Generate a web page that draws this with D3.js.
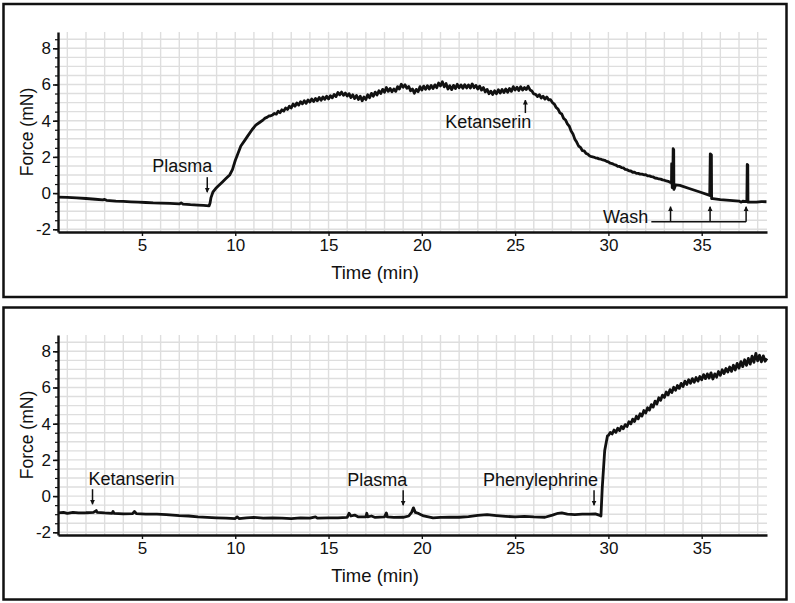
<!DOCTYPE html>
<html>
<head>
<meta charset="utf-8">
<script src="https://cdn.jsdelivr.net/npm/d3@7"></script>
<style>
  html, body { margin: 0; padding: 0; background: #fff; }
  svg { display: block; font-family: "Liberation Sans", Arial, sans-serif; }
</style>
</head>
<body>
<svg id="chart" width="795" height="603"></svg>
<script>
// ---------------- data ----------------
const xTicks = [5, 10, 15, 20, 25, 30, 35];
const yTicks = [-2, 0, 2, 4, 6, 8];
const xLabel = "Time (min)";
const yLabel = "Force (mN)";

// Top panel trace [time (min), force (mN)]
const topTrace = [
  [0.5,-0.22],[1.0,-0.24],[1.5,-0.27],[2.0,-0.3],[2.5,-0.34],[2.9,-0.38],[3.0,-0.35],[3.1,-0.4],[3.6,-0.44],
  [4.0,-0.46],[4.4,-0.48],[4.8,-0.5],[5.2,-0.52],[5.6,-0.54],[6.0,-0.55],[6.5,-0.57],[7.0,-0.6],[7.1,-0.54],
  [7.2,-0.61],[7.6,-0.64],[8.0,-0.66],[8.3,-0.68],[8.6,-0.71],
  [8.65,-0.55],[8.7,-0.25],[8.8,0.05],[8.95,0.25],[9.1,0.4],[9.3,0.6],[9.5,0.8],[9.7,1.0],[9.85,1.3],
  [10.0,1.8],[10.15,2.2],[10.3,2.6],[10.5,2.9],[10.7,3.2],[10.9,3.5],[11.1,3.75],[11.3,3.9],[11.5,4.05],
  [11.6,4.14],[11.7,4.18],[11.8,4.26],[11.9,4.27],[12.0,4.32],[12.1,4.4],[12.2,4.36],[12.3,4.52],[12.4,4.44],
  [12.5,4.6],[12.6,4.53],[12.7,4.7],[12.8,4.62],[12.9,4.8],[13.0,4.7],[13.1,4.92],[13.2,4.8],[13.3,4.98],
  [13.4,4.86],[13.5,5.05],[13.6,4.93],[13.7,5.1],[13.8,4.96],[13.9,5.15],[14.0,5.03],[14.1,5.2],[14.2,5.06],
  [14.3,5.23],[14.4,5.1],[14.5,5.28],[14.6,5.13],[14.7,5.31],[14.8,5.18],[14.9,5.35],[15.0,5.2],[15.1,5.38],
  [15.2,5.26],[15.3,5.45],[15.4,5.33],[15.5,5.56],[15.6,5.43],[15.7,5.58],[15.8,5.4],[15.9,5.53],[16.0,5.36],
  [16.1,5.49],[16.2,5.28],[16.3,5.43],[16.4,5.22],[16.5,5.39],[16.6,5.17],[16.7,5.35],[16.8,5.1],[16.9,5.31],
  [17.0,5.17],[17.1,5.43],[17.2,5.27],[17.3,5.51],[17.4,5.35],[17.5,5.58],[17.6,5.42],[17.7,5.65],[17.8,5.5],
  [17.9,5.73],[18.0,5.57],[18.1,5.83],[18.2,5.62],[18.3,5.78],[18.4,5.6],[18.5,5.75],[18.6,5.62],[18.7,5.88],
  [18.8,5.75],[18.9,6.01],[19.0,5.85],[19.1,5.98],[19.2,5.79],[19.3,5.89],[19.4,5.65],[19.5,5.75],[19.6,5.52],
  [19.7,5.73],[19.8,5.6],[19.9,5.88],[20.0,5.69],[20.1,5.91],[20.2,5.73],[20.3,5.93],[20.4,5.75],[20.5,5.95],
  [20.6,5.77],[20.7,5.98],[20.8,5.82],[20.9,6.08],[21.0,5.92],[21.1,6.15],[21.2,5.87],[21.3,6.05],[21.4,5.75],
  [21.5,5.93],[21.6,5.72],[21.7,5.95],[21.8,5.77],[21.9,6.01],[22.0,5.82],[22.1,5.98],[22.2,5.79],[22.3,5.99],
  [22.4,5.81],[22.5,5.98],[22.6,5.8],[22.7,6.03],[22.8,5.82],[22.9,5.95],[23.0,5.75],[23.1,5.91],[23.2,5.69],
  [23.3,5.83],[23.4,5.59],[23.5,5.73],[23.6,5.49],[23.7,5.63],[23.8,5.45],[23.9,5.65],[24.0,5.49],[24.1,5.71],
  [24.2,5.53],[24.3,5.73],[24.4,5.55],[24.5,5.75],[24.6,5.57],[24.7,5.78],[24.8,5.62],[24.9,5.88],[25.0,5.69],
  [25.1,5.85],[25.2,5.67],[25.3,5.88],[25.4,5.69],[25.5,5.83],[25.6,5.72],[25.7,5.9],[25.8,5.7],[25.9,5.64],
  [26.0,5.48],[26.1,5.45],[26.2,5.33],[26.3,5.43],[26.4,5.25],[26.5,5.35],[26.6,5.19],[26.7,5.31],[26.8,5.15],
  [26.9,5.16],[27.0,5.0],[27.1,4.92],[27.2,4.73],[27.3,4.64],[27.4,4.43],[27.5,4.37],[27.6,4.13],[27.7,4.04],
  [27.8,3.83],[27.9,3.7],[28.0,3.43],[28.1,3.27],[28.2,2.98],[28.3,2.82],[28.4,2.6],[28.5,2.53],[28.6,2.35],
  [28.7,2.33],[28.8,2.19],[28.9,2.15],[29.0,2.05],[29.1,2.01],[29.2,1.99],[29.3,1.95],[29.4,1.93],[29.5,1.89],
  [29.6,1.87],[29.7,1.83],[29.8,1.81],[29.9,1.75],[30.0,1.72],[30.1,1.65],[30.2,1.63],[30.3,1.58],[30.4,1.55],
  [30.5,1.48],[30.6,1.47],[30.7,1.41],[30.8,1.39],[30.9,1.31],[31.0,1.29],[31.1,1.23],[31.2,1.22],[31.3,1.15],
  [31.4,1.15],[31.5,1.09],[31.6,1.09],[31.7,1.05],[31.8,1.05],[31.9,1.01],[32.0,1.02],[32.1,0.95],[32.2,0.95],
  [32.3,0.91],[32.4,0.89],[32.5,0.83],[32.6,0.82],[32.7,0.78],[32.8,0.77],[32.9,0.73],[33.0,0.71],[33.1,0.67],
  [33.2,0.65],[33.3,0.6],[33.35,0.62],
  [33.38,0.55],[33.39,1.62],[33.41,1.55],[33.42,0.3],[33.45,0.4],[33.47,2.45],[33.5,2.4],[33.51,0.2],
  [33.55,0.3],[33.6,0.45],[33.83,0.43],[34.37,0.24],[34.9,0.06],[35.43,-0.13],[35.46,2.17],[35.52,2.12],
  [35.53,-0.3],[35.6,-0.31],[36.0,-0.36],[36.5,-0.4],[37.0,-0.44],[37.1,-0.5],[37.2,-0.45],[37.42,-0.47],
  [37.44,1.58],[37.47,1.55],[37.48,-0.5],[37.94,-0.5],[38.2,-0.47],[38.47,-0.48]
];

// Bottom panel trace [time (min), force (mN)]
const bottomTrace = [
  [0.5,-0.93],[0.8,-0.9],[1.0,-0.95],[1.3,-0.9],[1.6,-0.93],[2.0,-0.92],[2.4,-0.9],[2.55,-0.8],[2.6,-0.9],
  [3.0,-0.93],[3.4,-0.95],[3.45,-0.85],[3.5,-0.95],[4.0,-0.98],[4.5,-0.97],[4.6,-0.85],[4.7,-0.97],
  [5.2,-1.0],[5.8,-1.0],[6.3,-1.02],[7.0,-1.08],[7.5,-1.1],[8.0,-1.15],[8.5,-1.18],[9.0,-1.2],[9.5,-1.22],
  [10.0,-1.24],[10.1,-1.15],[10.2,-1.24],[10.6,-1.2],[11.0,-1.18],[11.5,-1.22],[12.0,-1.2],[12.5,-1.22],
  [13.0,-1.24],[13.5,-1.2],[14.0,-1.22],[14.3,-1.15],[14.4,-1.22],[15.0,-1.2],[15.5,-1.2],[16.0,-1.18],
  [16.1,-0.95],[16.2,-1.1],[16.4,-1.05],[16.6,-1.15],[17.0,-1.15],[17.05,-0.95],[17.1,-1.15],[17.3,-1.1],
  [17.5,-1.18],[18.0,-1.15],[18.1,-0.93],[18.15,-1.15],[18.5,-1.18],[19.0,-1.17],[19.3,-1.1],[19.45,-0.9],
  [19.55,-0.65],[19.65,-0.9],[19.8,-0.95],[19.9,-1.0],[20.1,-1.1],[20.6,-1.2],[21.0,-1.18],[21.5,-1.17],
  [22.0,-1.17],[22.5,-1.13],[23.0,-1.07],[23.5,-1.03],[24.0,-1.08],[24.5,-1.12],[25.0,-1.15],[25.5,-1.12],
  [26.0,-1.15],[26.6,-1.17],[27.0,-1.05],[27.3,-0.95],[27.5,-0.93],[27.8,-1.0],[28.2,-1.02],[28.6,-1.0],
  [29.0,-1.0],[29.3,-0.98],[29.5,-1.05],[29.6,-1.1],[29.67,0.46],[29.8,2.5],[29.95,3.33],
  [30.0,3.35],[30.1,3.52],[30.2,3.43],[30.3,3.65],[30.4,3.52],[30.5,3.75],[30.6,3.62],[30.7,3.85],[30.8,3.72],
  [30.9,3.95],[31.0,3.85],[31.1,4.11],[31.2,3.99],[31.3,4.25],[31.4,4.12],[31.5,4.41],[31.6,4.27],[31.7,4.55],
  [31.8,4.42],[31.9,4.73],[32.0,4.59],[32.1,4.88],[32.2,4.75],[32.3,5.05],[32.4,4.92],[32.5,5.25],[32.6,5.09],
  [32.7,5.43],[32.8,5.29],[32.9,5.58],[33.0,5.45],[33.1,5.75],[33.2,5.59],[33.3,5.88],[33.4,5.72],[33.5,6.01],
  [33.6,5.85],[33.7,6.11],[33.8,5.95],[33.9,6.23],[34.0,6.05],[34.1,6.35],[34.2,6.17],[34.3,6.43],[34.4,6.23],
  [34.5,6.49],[34.6,6.29],[34.7,6.55],[34.8,6.35],[34.9,6.61],[35.0,6.42],[35.1,6.71],[35.2,6.49],[35.3,6.75],
  [35.4,6.52],[35.5,6.81],[35.6,6.47],[35.7,6.75],[35.8,6.57],[35.9,6.88],[36.0,6.67],[36.1,6.98],[36.2,6.77],
  [36.3,7.05],[36.4,6.85],[36.5,7.13],[36.6,6.89],[36.7,7.23],[36.8,6.97],[36.9,7.33],[37.0,7.07],[37.1,7.43],
  [37.2,7.15],[37.3,7.53],[37.4,7.22],[37.5,7.61],[37.6,7.29],[37.7,7.73],[37.8,7.39],[37.9,7.88],[38.0,7.47],
  [38.1,7.78],[38.2,7.42],[38.3,7.75],[38.4,7.45],[38.5,7.6]
];

// Annotations: label, time of addition, force at arrow tip
const topNotes = [
  { label: "Plasma",     t: 8.5,   tip: 0.05 },
  { label: "Ketanserin", t: 25.55, tip: 5.14 }
];
const washLabel = "Wash";
const washTimes = [33.33, 35.45, 37.38];
const washStart = 32.3;
const bottomNotes = [
  { label: "Ketanserin",    t: 2.35,  tip: -0.45 },
  { label: "Plasma",        t: 19.0,  tip: -0.5 },
  { label: "Phenylephrine", t: 29.23, tip: -0.5 }
];

// ---------------- drawing ----------------
const svg = d3.select("#chart");
const margin = { left: 58, right: 767 };
const x = d3.scaleLinear().domain([0.5, 38.5]).range([margin.left, margin.right]);
const FONT = "Liberation Sans, Arial, sans-serif";
const ink = "#111";

svg.append("defs").append("marker")
  .attr("id", "ah").attr("viewBox", "0 0 10 10").attr("refX", 9).attr("refY", 5)
  .attr("markerWidth", 5).attr("markerHeight", 6).attr("markerUnits", "userSpaceOnUse")
  .attr("orient", "auto")
  .append("path").attr("d", "M0,0 L10,5 L0,10 Z").attr("fill", ink);

function label(g, tx, ty, txt, size, anchor) {
  return g.append("text").attr("x", tx).attr("y", ty).attr("text-anchor", anchor || "middle")
    .attr("font-size", size).attr("font-family", FONT).attr("fill", ink).text(txt);
}

function panel(cfg) {
  const g = svg.append("g");
  g.append("rect").attr("x", 3.5).attr("y", cfg.boxTop).attr("width", 783).attr("height", cfg.boxH)
    .attr("fill", "none").attr("stroke", ink).attr("stroke-width", 2.5);

  const y = d3.scaleLinear().domain([-2.15, 8.9]).range([cfg.bottom, cfg.top]);

  const grid = g.append("g").attr("stroke", "#dedede").attr("stroke-width", 1.4);
  grid.selectAll("line.v").data(d3.range(1, 39, 1)).join("line")
    .attr("x1", d => x(d)).attr("x2", d => x(d)).attr("y1", cfg.top).attr("y2", cfg.bottom);
  grid.selectAll("line.h").data(d3.range(-2, 8.51, 0.5)).join("line")
    .attr("x1", margin.left).attr("x2", margin.right).attr("y1", d => y(d)).attr("y2", d => y(d));

  const line = d3.line().x(d => x(d[0])).y(d => y(d[1]));
  g.append("path").datum(cfg.trace).attr("d", line)
    .attr("fill", "none").attr("stroke", ink).attr("stroke-width", 2.8)
    .attr("stroke-linejoin", "round");

  const yMinor = g.append("g").attr("transform", `translate(${margin.left},0)`)
    .call(d3.axisLeft(y).tickValues(d3.range(-2, 8.51, 0.5)).tickSize(3).tickSizeOuter(0).tickFormat(""));
  yMinor.select(".domain").remove();
  yMinor.selectAll("line").attr("stroke", ink).attr("stroke-width", 1.2);

  const yAx = g.append("g").attr("transform", `translate(${margin.left},0)`)
    .call(d3.axisLeft(y).tickValues(yTicks).tickSize(5).tickSizeOuter(0).tickPadding(2)
      .tickFormat(d => String(d)));
  yAx.select(".domain").attr("stroke", ink).attr("stroke-width", 2.4);
  yAx.selectAll(".tick line").attr("stroke", ink).attr("stroke-width", 1.6);
  yAx.selectAll("text").attr("font-size", 17).attr("fill", ink).attr("font-family", FONT);

  const xAx = g.append("g").attr("transform", `translate(0,${cfg.bottom})`)
    .call(d3.axisBottom(x).tickValues(xTicks).tickSize(4).tickSizeOuter(0).tickPadding(3)
      .tickFormat(d => String(d)));
  xAx.select(".domain").attr("stroke", ink).attr("stroke-width", 2.4);
  xAx.selectAll(".tick line").attr("stroke", ink).attr("stroke-width", 1.4);
  xAx.selectAll("text").attr("font-size", 17).attr("fill", ink).attr("font-family", FONT);

  label(g, 375, cfg.bottom + 47, xLabel, 18.5);
  g.append("text").attr("transform", `translate(33,${(cfg.top + cfg.bottom) / 2}) rotate(-90)`)
    .attr("text-anchor", "middle").attr("font-size", 17.5).attr("font-family", FONT)
    .attr("fill", ink).text(yLabel);

  return { g, y };
}

function arrow(g, x0, y0, y1) {
  g.append("line").attr("x1", x0).attr("x2", x0).attr("y1", y0).attr("y2", y1)
    .attr("stroke", ink).attr("stroke-width", 1.5).attr("marker-end", "url(#ah)");
}

// ---- top panel ----
const P1 = panel({ boxTop: 4, boxH: 293, top: 32, bottom: 232, trace: topTrace });
{
  const { g, y } = P1;
  const pl = topNotes[0];
  arrow(g, x(pl.t), y(pl.tip) - 15, y(pl.tip));
  label(g, x(pl.t) + 5, y(pl.tip) - 20, pl.label, 18, "end");
  const ke = topNotes[1];
  arrow(g, x(ke.t), y(ke.tip) + 13, y(ke.tip));
  label(g, x(ke.t) + 6, y(ke.tip) + 28, ke.label, 18, "end");

  const yBase = y(-1.58), yTip = y(-0.75);
  g.append("line").attr("x1", x(washStart)).attr("x2", x(washTimes[washTimes.length - 1]))
    .attr("y1", yBase).attr("y2", yBase).attr("stroke", ink).attr("stroke-width", 1.5);
  washTimes.forEach(t => arrow(g, x(t), yBase, yTip));
  label(g, x(washStart) - 3, yBase + 1, washLabel, 18, "end");
}

// ---- bottom panel ----
const P2 = panel({ boxTop: 307.5, boxH: 292, top: 335, bottom: 535, trace: bottomTrace });
{
  const { g, y } = P2;
  bottomNotes.forEach((n, i) => {
    const xa = x(n.t), yt = y(n.tip);
    arrow(g, xa, yt - 15, yt);
    const first = i === 0;
    label(g, first ? xa - 4 : xa + 4, yt - 19, n.label, 18, first ? "start" : "end");
  });
}
</script>
</body>
</html>
